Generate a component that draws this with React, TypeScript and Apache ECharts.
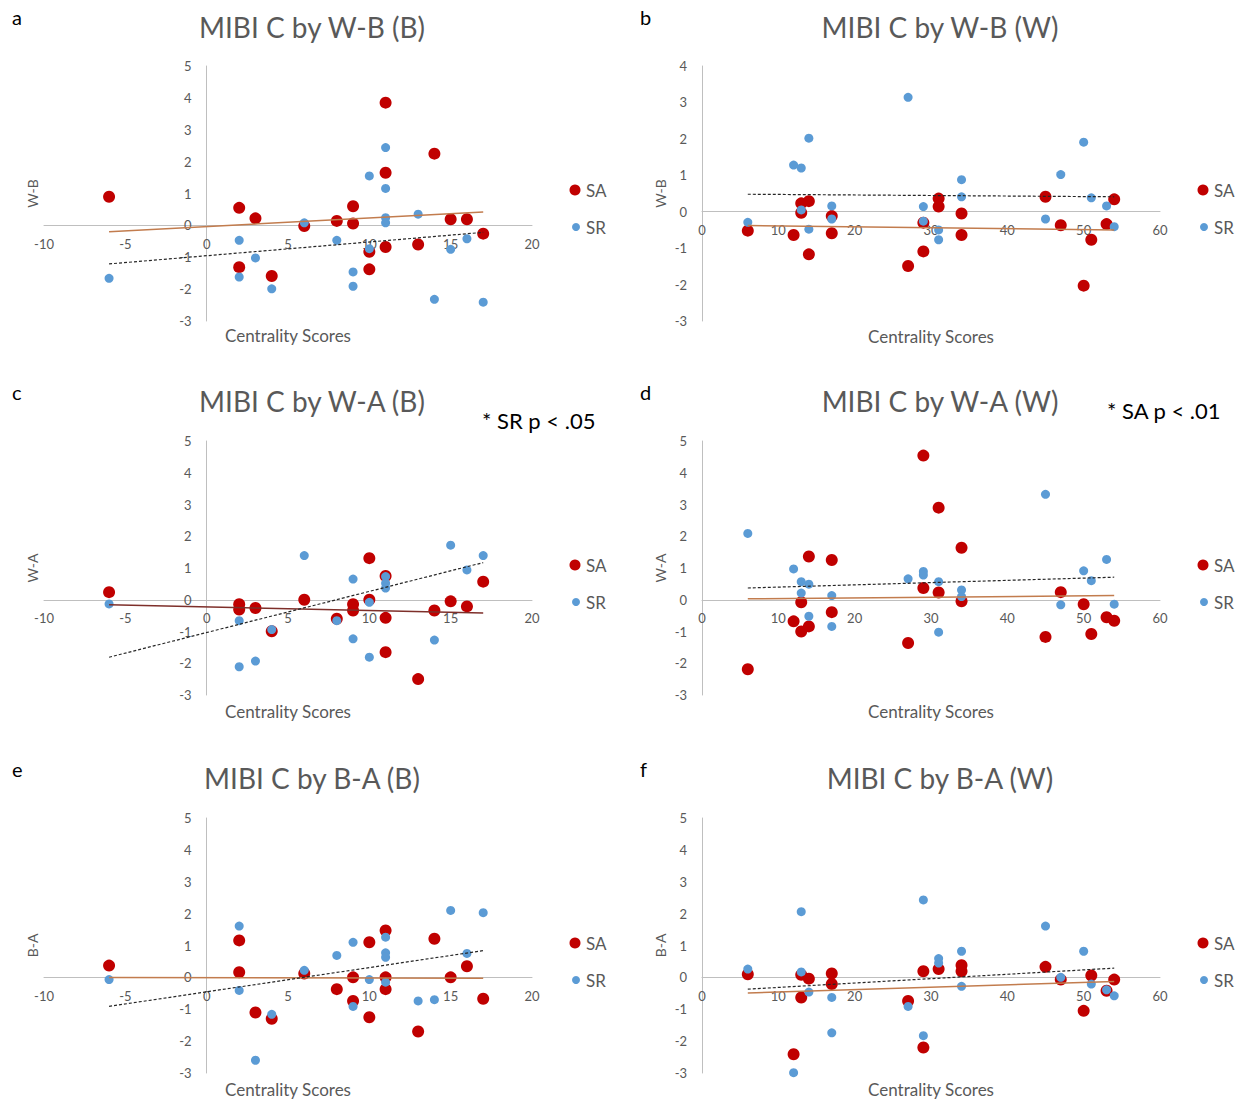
import React, { useEffect, useRef } from 'react';
import * as echarts from 'echarts';

// ---------- data ----------
// a: MIBI C by W-B (B)
const wbB_SA = [[-6,0.9],[2,0.55],[2,-1.31],[3,0.22],[4,-1.59],[6,-0.02],[8,0.14],[9,0.6],[9,0.06],[10,-0.83],[10,-1.38],[11,3.85],[11,1.65],[11,-0.68],[13,-0.6],[14,2.25],[15,0.19],[16,0.19],[17,-0.26]];
const wbB_SR = [[-6,-1.66],[2,-0.47],[2,-1.62],[3,-1.02],[4,-1.99],[6,0.08],[8,-0.47],[9,-1.46],[9,-1.91],[10,1.55],[10,-0.73],[11,2.44],[11,1.16],[11,0.24],[11,0.08],[13,0.35],[14,-2.32],[15,-0.75],[16,-0.42],[17,-2.41]];
const wbB_SA_trend = [[-6,-0.2],[17,0.42]];
const wbB_SR_trend = [[-6,-1.21],[17,-0.22]];

// b: MIBI C by W-B (W)
const wbW_SA = [[6,-0.52],[12,-0.64],[13,0.23],[13,-0.03],[14,0.29],[14,-1.17],[17,-0.12],[17,-0.59],[27,-1.49],[29,-0.3],[29,-1.09],[31,0.36],[31,0.14],[34,-0.05],[34,-0.64],[45,0.41],[47,-0.37],[50,-2.03],[51,-0.77],[53,-0.34],[54,0.34]];
const wbW_SR = [[6,-0.29],[12,1.28],[13,1.2],[13,0.05],[14,2.02],[14,-0.48],[17,0.16],[17,-0.2],[27,3.14],[29,0.14],[29,-0.26],[31,-0.5],[31,-0.77],[34,0.88],[34,0.41],[45,-0.2],[47,1.02],[50,1.91],[51,0.38],[53,0.16],[54,-0.41]];
const wbW_SA_trend = [[6,-0.38],[54,-0.5]];
const wbW_SR_trend = [[6,0.48],[54,0.41]];

// c: MIBI C by W-A (B)
const waB_SA = [[-6,0.24],[2,-0.14],[2,-0.31],[3,-0.26],[4,-0.99],[6,0],[8,-0.6],[9,-0.14],[9,-0.34],[10,1.31],[10,0],[11,0.75],[11,-0.57],[11,-1.65],[13,-2.5],[14,-0.34],[15,-0.05],[16,-0.21],[17,0.57]];
const waB_SR = [[-6,-0.13],[2,-0.66],[2,-2.11],[3,-1.93],[4,-0.94],[6,1.39],[8,-0.66],[9,0.65],[9,-1.23],[10,-0.08],[10,-1.81],[11,0.73],[11,0.52],[11,0.37],[14,-1.27],[15,1.72],[16,0.94],[17,1.39]];
const waB_SA_trend = [[-6,-0.16],[17,-0.42]];
const waB_SR_trend = [[-6,-1.81],[17,1.17]];

// d: MIBI C by W-A (W)
const waW_SA = [[6,-2.19],[12,-0.68],[13,-0.08],[13,-1.0],[14,1.36],[14,-0.84],[17,1.25],[17,-0.39],[27,-1.36],[29,4.54],[29,0.37],[31,2.9],[31,0.23],[34,1.64],[34,-0.05],[45,-1.17],[47,0.24],[50,-0.14],[51,-1.08],[53,-0.55],[54,-0.66]];
const waW_SR = [[6,2.09],[12,0.97],[13,0.57],[13,0.21],[14,0.49],[14,-0.52],[17,0.13],[17,-0.84],[27,0.66],[29,0.89],[29,0.78],[31,0.57],[31,-1.02],[34,0.31],[34,0.1],[45,3.32],[47,-0.16],[50,0.91],[51,0.6],[53,1.27],[54,-0.14]];
const waW_SA_trend = [[6,0.03],[54,0.13]];
const waW_SR_trend = [[6,0.37],[54,0.71]];

// e: MIBI C by B-A (B)
const baB_SA = [[-6,0.37],[2,1.16],[2,0.16],[3,-1.1],[4,-1.3],[6,0.12],[8,-0.37],[9,0],[9,-0.74],[10,1.1],[10,-1.25],[11,1.47],[11,0],[11,-0.37],[13,-1.7],[14,1.21],[15,0],[16,0.35],[17,-0.67]];
const baB_SR = [[-6,-0.07],[2,1.61],[2,-0.41],[3,-2.6],[4,-1.16],[6,0.22],[8,0.69],[9,1.1],[9,-0.91],[10,-0.07],[11,1.26],[11,0.77],[11,0.63],[11,-0.15],[13,-0.74],[14,-0.7],[15,2.1],[16,0.75],[17,2.03]];
const baB_SA_trend = [[-6,0.0],[17,-0.03]];
const baB_SR_trend = [[-6,-0.91],[17,0.84]];

// f: MIBI C by B-A (W)
const baW_SA = [[6,0.1],[12,-2.41],[13,0.08],[13,-0.63],[14,-0.04],[17,0.12],[17,-0.21],[27,-0.74],[29,0.19],[29,-2.2],[31,0.26],[34,0.38],[34,0.19],[45,0.33],[47,-0.07],[50,-1.05],[51,0.06],[53,-0.42],[54,-0.07]];
const baW_SR = [[6,0.26],[12,-2.99],[13,2.06],[13,0.17],[14,-0.46],[17,-0.63],[17,-1.74],[27,-0.91],[29,2.43],[29,-1.83],[31,0.59],[31,0.45],[34,0.82],[34,-0.28],[45,1.61],[47,0],[50,0.82],[51,-0.21],[53,-0.39],[54,-0.58]];
const baW_SA_trend = [[6,-0.49],[54,-0.13]];
const baW_SR_trend = [[6,-0.37],[54,0.29]];

const titles = ['MIBI C by W-B (B)', 'MIBI C by W-B (W)', 'MIBI C by W-A (B)', 'MIBI C by W-A (W)', 'MIBI C by B-A (B)', 'MIBI C by B-A (W)'];
const letters = ['a', 'b', 'c', 'd', 'e', 'f'];
const yNames = ['W-B', 'W-B', 'W-A', 'W-A', 'B-A', 'B-A'];
const xName = 'Centrality Scores';
const seriesNames = ['SA', 'SR'];
const notes = ['* SR p < .05', '* SA p < .01'];

const SA_COLOR = '#C00000';
const SR_COLOR = '#5B9BD5';
const GRAY = '#595959';
const FONT = 'Lato, "Open Sans", sans-serif';
const Y_MIN = -3;

// ---------- layout ----------
const layouts = [
  { sa: wbB_SA, sr: wbB_SR, saT: wbB_SA_trend, srT: wbB_SR_trend, xMin: -10, xMax: 20, xInt: 5, yMax: 5, left: 44, top: 66, width: 488, height: 255, tx: 312, ty: 28, lx: 12, ly: 7, yGap: 167, xGap: 102, legX: 575, legY: 190, trendColor: '#C27C4E' },
  { sa: wbW_SA, sr: wbW_SR, saT: wbW_SA_trend, srT: wbW_SR_trend, xMin: 0, xMax: 60, xInt: 10, yMax: 4, left: 702, top: 66, width: 458, height: 255, tx: 940, ty: 28, lx: 640, ly: 7, yGap: 35, xGap: 116, legX: 1203, legY: 190, trendColor: '#C27C4E' },
  { sa: waB_SA, sr: waB_SR, saT: waB_SA_trend, srT: waB_SR_trend, xMin: -10, xMax: 20, xInt: 5, yMax: 5, left: 44, top: 441, width: 488, height: 254, tx: 312, ty: 402, lx: 12, ly: 382, yGap: 167, xGap: 103, legX: 575, legY: 565, trendColor: '#7E2F2A' },
  { sa: waW_SA, sr: waW_SR, saT: waW_SA_trend, srT: waW_SR_trend, xMin: 0, xMax: 60, xInt: 10, yMax: 5, left: 702, top: 441, width: 458, height: 254, tx: 940, ty: 402, lx: 640, ly: 382, yGap: 35, xGap: 103, legX: 1203, legY: 565, trendColor: '#C27C4E' },
  { sa: baB_SA, sr: baB_SR, saT: baB_SA_trend, srT: baB_SR_trend, xMin: -10, xMax: 20, xInt: 5, yMax: 5, left: 44, top: 818, width: 488, height: 255, tx: 312, ty: 779, lx: 12, ly: 759, yGap: 167, xGap: 104, legX: 575, legY: 943, trendColor: '#C27C4E' },
  { sa: baW_SA, sr: baW_SR, saT: baW_SA_trend, srT: baW_SR_trend, xMin: 0, xMax: 60, xInt: 10, yMax: 5, left: 702, top: 818, width: 458, height: 255, tx: 940, ty: 779, lx: 640, ly: 759, yGap: 35, xGap: 104, legX: 1203, legY: 943, trendColor: '#C27C4E' },
];
const noteLayouts = [
  { x: 482, y: 420 },
  { x: 1107, y: 410 },
];

function buildOption() {
  const grid: any[] = [];
  const xAxis: any[] = [];
  const yAxis: any[] = [];
  const series: any[] = [];
  const title: any[] = [];
  const graphic: any[] = [];

  layouts.forEach((p, i) => {
    // axes cross at zero: shift each axis inward from the grid edge to the zero position
    const xOffset = -(p.height * (0 - Y_MIN)) / (p.yMax - Y_MIN);
    const yOffset = -(p.width * (0 - p.xMin)) / (p.xMax - p.xMin);
    grid.push({ left: p.left, top: p.top, width: p.width, height: p.height, containLabel: false, outerBoundsMode: 'none' });
    xAxis.push({
      type: 'value', gridIndex: i, min: p.xMin, max: p.xMax, interval: p.xInt, offset: xOffset,
      axisLine: { show: true, onZero: false, lineStyle: { color: '#BFBFBF', width: 1 } },
      axisTick: { show: false }, splitLine: { show: false },
      axisLabel: { color: GRAY, fontSize: 13, fontFamily: FONT, margin: 12 },
      name: xName, nameLocation: 'middle', nameGap: p.xGap,
      nameTextStyle: { color: GRAY, fontSize: 17, fontFamily: FONT },
    });
    yAxis.push({
      type: 'value', gridIndex: i, min: Y_MIN, max: p.yMax, interval: 1, offset: yOffset,
      axisLine: { show: true, onZero: false, lineStyle: { color: '#BFBFBF', width: 1 } },
      axisTick: { show: false }, splitLine: { show: false },
      axisLabel: { color: GRAY, fontSize: 13, fontFamily: FONT, margin: 15 },
      name: yNames[i], nameLocation: 'middle', nameGap: p.yGap, nameRotate: 90,
      nameTextStyle: { color: GRAY, fontSize: 14, fontFamily: FONT },
    });
    series.push({
      name: seriesNames[0], type: 'scatter', xAxisIndex: i, yAxisIndex: i, data: p.sa,
      symbolSize: 12, itemStyle: { color: SA_COLOR, opacity: 1 }, z: 2,
    });
    series.push({
      name: seriesNames[1], type: 'scatter', xAxisIndex: i, yAxisIndex: i, data: p.sr,
      symbolSize: 9, itemStyle: { color: SR_COLOR, opacity: 1 }, z: 3,
    });
    series.push({
      name: 'Linear (SA)', type: 'line', xAxisIndex: i, yAxisIndex: i, data: p.saT,
      symbol: 'none', showSymbol: false, silent: true,
      lineStyle: { color: p.trendColor, width: 1.5, type: 'solid' }, z: 4,
    });
    series.push({
      name: 'Linear (SR)', type: 'line', xAxisIndex: i, yAxisIndex: i, data: p.srT,
      symbol: 'none', showSymbol: false, silent: true,
      lineStyle: { color: '#262626', width: 1.2, type: [3, 2] }, z: 4,
    });
    title.push({
      text: titles[i], left: p.tx - 5, top: p.ty - 20, textAlign: 'center',
      textStyle: { color: GRAY, fontSize: 28, fontWeight: 'normal', fontFamily: FONT },
    });
    graphic.push({
      type: 'text', x: p.lx, y: p.ly,
      style: { text: letters[i], fill: '#000', fontSize: 20, fontFamily: FONT },
    });
    // legend
    graphic.push({ type: 'circle', shape: { cx: p.legX, cy: p.legY, r: 5.5 }, style: { fill: SA_COLOR } });
    graphic.push({ type: 'text', x: p.legX + 11, y: p.legY, style: { text: seriesNames[0], fill: GRAY, fontSize: 17, fontFamily: FONT, verticalAlign: 'middle' } });
    graphic.push({ type: 'circle', shape: { cx: p.legX + 1, cy: p.legY + 37, r: 4 }, style: { fill: SR_COLOR } });
    graphic.push({ type: 'text', x: p.legX + 11, y: p.legY + 37, style: { text: seriesNames[1], fill: GRAY, fontSize: 17, fontFamily: FONT, verticalAlign: 'middle' } });
  });

  notes.forEach((n, i) => {
    graphic.push({
      type: 'text', x: noteLayouts[i].x, y: noteLayouts[i].y,
      style: { text: n, fill: '#000', fontSize: 22, fontFamily: FONT, verticalAlign: 'middle' },
    });
  });

  return { animation: false, backgroundColor: '#fff', grid, xAxis, yAxis, series, title, graphic };
}

export default function App() {
  const ref = useRef<HTMLDivElement>(null);
  useEffect(() => {
    if (!ref.current) return;
    const chart = echarts.init(ref.current, undefined, { renderer: 'svg' });
    chart.setOption(buildOption() as any);
    return () => chart.dispose();
  }, []);
  return (
    <div
      ref={ref}
      style={{ position: 'fixed', left: 0, top: 0, width: 1243, height: 1109, background: '#fff' }}
    />
  );
}
